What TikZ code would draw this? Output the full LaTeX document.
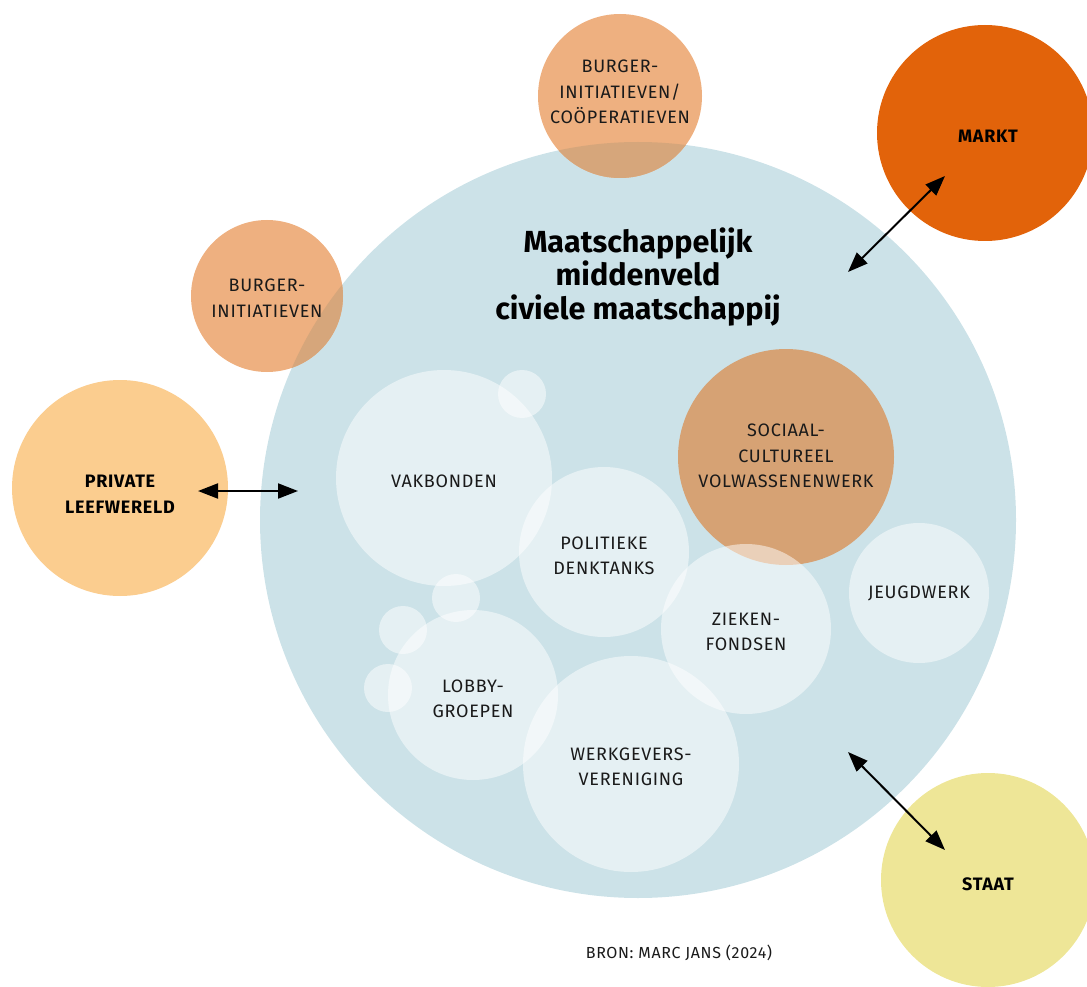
\documentclass[tikz,border=0pt]{standalone}
\usepackage{fontspec}
\setmainfont{Fira Sans}
\newfontfamily\labelfont[LetterSpace=4]{Fira Sans}
\newfontfamily\labelbold[LetterSpace=4]{Fira Sans Bold}
\usetikzlibrary{arrows.meta}

\definecolor{civic}{HTML}{CCE2E8}
\definecolor{citizen}{HTML}{EEB080}
\definecolor{blendtan}{HTML}{D6A67B}
\definecolor{market}{HTML}{E2630A}
\definecolor{private}{HTML}{FBCD8F}
\definecolor{state}{HTML}{EEE697}
\definecolor{adult}{HTML}{D6A274}
\definecolor{ink}{HTML}{1A1A1A}

\begin{document}
\begin{tikzpicture}[x=1pt,y=-1pt,
  disc/.style={circle, inner sep=0pt, draw=none},
  bubble/.style={disc, fill=white, fill opacity=0.5},
  lbl/.style={align=center, text=ink, font=\labelfont\fontsize{18}{25.5}\selectfont},
  lblb/.style={align=center, text=black, font=\labelbold\fontsize{18}{26}\selectfont},
  link/.style={{Triangle[length=20pt,width=15pt]}-{Triangle[length=20pt,width=15pt]}, line width=2pt, black}]
\useasboundingbox (0,0) rectangle (1087,987);

% the civil society field
\node[disc, fill=civic, minimum size=756pt] (civic) at (638,520) {};

% outer actors
\node[disc, fill=citizen, minimum size=164pt] (coop) at (620,96) {};
\node[disc, fill=citizen, minimum size=152pt] (burger) at (267,296) {};
\node[disc, fill=market, minimum size=216pt] (markt) at (985,133) {};
\node[disc, fill=private, minimum size=216pt] (private) at (120,488) {};
\node[disc, fill=state, minimum size=214pt] (staat) at (988,880) {};

% where citizen initiatives reach into the field
\begin{scope}
  \clip (civic.center) circle (378pt);
  \fill[blendtan] (coop.center) circle (82pt);
  \fill[blendtan] (burger.center) circle (76pt);
\end{scope}

% organisations inside the field
\node[disc, fill=adult, minimum size=216pt] (sociaal) at (786,457) {};
\node[bubble, minimum size=216pt] (vakbond) at (444,478) {};
\node[bubble, minimum size=48pt] (dotA) at (522,394) {};
\node[bubble, minimum size=170pt] (denktank) at (604,552) {};
\node[bubble, minimum size=170pt] (zieken) at (746,629) {};
\node[bubble, minimum size=140pt] (jeugd) at (919,593) {};
\node[bubble, minimum size=170pt] (lobby) at (473,695) {};
\node[bubble, minimum size=216pt] (werkgever) at (631,764) {};
\node[bubble, minimum size=48pt] (dotB) at (456,598) {};
\node[bubble, minimum size=48pt] (dotC) at (403,630) {};
\node[bubble, minimum size=48pt] (dotD) at (388,688) {};

% labels
\node[align=center, text=black, font=\fontsize{30.5}{33.5}\selectfont\bfseries] (title) at (638,277)
  {Maatschappelijk\\middenveld\\civiele maatschappij};
\node[lbl] (coop-t) at (620,92) {BURGER-\\INITIATIEVEN/\\COÖPERATIEVEN};
\node[lbl] (burger-t) at (267,298) {BURGER-\\INITIATIEVEN};
\node[lblb] (markt-t) at (988,136) {MARKT};
\node[lblb] (private-t) at (120,494) {PRIVATE\\LEEFWERELD};
\node[lblb] (staat-t) at (988,884) {STAAT};
\node[lbl] (sociaal-t) at (786,456) {SOCIAAL-\\CULTUREEL\\VOLWASSENENWERK};
\node[lbl] (vakbond-t) at (444,481) {VAKBONDEN};
\node[lbl] (denktank-t) at (604,556) {POLITIEKE\\DENKTANKS};
\node[lbl] (zieken-t) at (746,632) {ZIEKEN-\\FONDSEN};
\node[lbl] (jeugd-t) at (919,593) {JEUGDWERK};
\node[lbl] (lobby-t) at (473,699) {LOBBY-\\GROEPEN};
\node[lbl] (werkgever-t) at (631,767) {WERKGEVERS-\\VERENIGING};
\node[lbl, font=\labelfont\fontsize{16}{20}\selectfont] (bron) at (679,953) {BRON: MARC JANS (2024)};

% relations between the field and the other spheres
\coordinate (pvA) at (198,491);
\coordinate (pvB) at (298,491);
\coordinate (mkA) at (848,272);
\coordinate (mkB) at (945,176);
\coordinate (stA) at (848,752);
\coordinate (stB) at (945,850);
\draw[link] (pvA) -- (pvB);
\draw[link] (mkA) -- (mkB);
\draw[link] (stA) -- (stB);
\end{tikzpicture}
\end{document}
